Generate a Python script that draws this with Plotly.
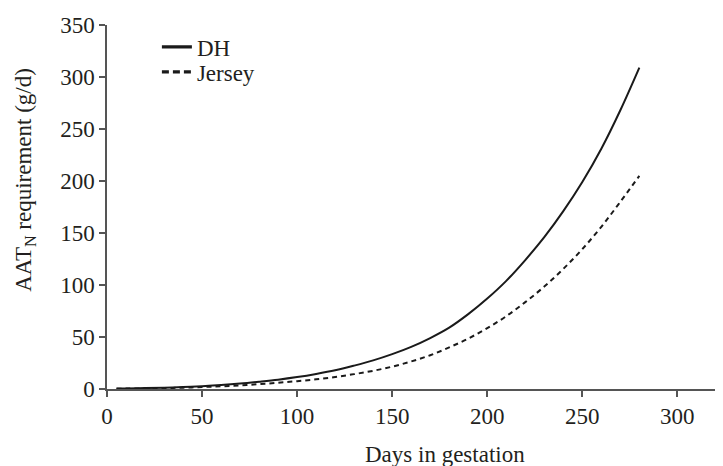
import plotly.graph_objects as go

days = [5, 10, 20, 30, 40, 50, 60, 70, 80, 90, 100, 110, 120, 130, 140, 150,
        160, 170, 180, 190, 200, 210, 220, 230, 240, 250, 260, 270, 280]
dh = [0.5, 0.6, 0.9, 1.3, 1.9, 2.7, 3.8, 5.2, 7.0, 9.0, 11.5, 14.5, 18.0, 22.5,
      27.5, 33.5, 40.5, 49.0, 59.0, 72.0, 87.0, 104.0, 124.0, 146.0, 171.0,
      199.0, 231.0, 268.0, 309.0]
jersey = [0.3, 0.4, 0.6, 0.9, 1.3, 1.9, 2.6, 3.5, 4.7, 6.0, 7.5, 9.3, 11.5, 14.3,
          17.5, 21.5, 26.5, 32.5, 40.0, 48.5, 58.5, 70.0, 83.5, 98.5, 115.5,
          134.5, 156.0, 180.0, 205.0]

x_ticks = [0, 50, 100, 150, 200, 250, 300]
y_ticks = [0, 50, 100, 150, 200, 250, 300, 350]

FONT = "Liberation Serif"
TXT = "#231f20"
AX = "#555555"
LINE = "#1a1a1a"

fig = go.Figure()
# data curves
fig.add_trace(go.Scatter(x=days, y=dh, mode="lines", name="DH", showlegend=False,
                         line=dict(color=LINE, width=2, shape="spline")))
fig.add_trace(go.Scatter(x=days, y=jersey, mode="lines", name="Jersey", showlegend=False,
                         line=dict(color=LINE, width=2, dash="5px,4px", shape="spline")))
# legend entries (thicker symbols, as in the reference)
fig.add_trace(go.Scatter(x=[None], y=[None], mode="lines", name="DH", legend="legend",
                         line=dict(color=LINE, width=3.2)))
fig.add_trace(go.Scatter(x=[None], y=[None], mode="lines", name="Jersey", legend="legend2",
                         line=dict(color=LINE, width=3.2, dash="7px,4px")))

leg_common = dict(xanchor="left", yanchor="middle", bgcolor="rgba(0,0,0,0)",
                  font=dict(size=23, family=FONT, color=TXT), borderwidth=0)

fig.update_layout(
    width=715, height=458, autosize=False,
    margin=dict(l=99, r=0, t=17, b=77),
    paper_bgcolor="white", plot_bgcolor="white",
    font=dict(family=FONT, size=23, color=TXT),
    showlegend=True,
    legend=dict(x=0.081, y=0.940, **leg_common),
    legend2=dict(x=0.081, y=0.871, **leg_common),
    xaxis=dict(range=[0, 324], tickvals=x_ticks, ticktext=[str(v) for v in x_ticks],
               showgrid=False, zeroline=False, showline=True, linecolor=AX, linewidth=1.5,
               ticks="outside", ticklen=6, tickwidth=1.5, tickcolor=AX,
               tickfont=dict(size=23, family=FONT, color=TXT)),
    yaxis=dict(range=[0, 350], tickvals=y_ticks, ticktext=[str(v) for v in y_ticks],
               showgrid=False, zeroline=False, showline=True, linecolor=AX, linewidth=1.5,
               ticks="outside", ticklen=6, tickwidth=1.5, tickcolor=AX,
               tickfont=dict(size=23, family=FONT, color=TXT)),
    annotations=[
        dict(text="Days in gestation", xref="paper", yref="paper", x=0.549, y=-0.18,
             xanchor="center", yanchor="middle", showarrow=False,
             font=dict(size=23, family=FONT, color=TXT)),
        dict(text="AAT<sub>N</sub> requirement (g/d)", xref="paper", yref="paper",
             x=-0.133, y=0.575, xanchor="center", yanchor="middle", textangle=-90,
             showarrow=False, font=dict(size=23, family=FONT, color=TXT)),
    ],
)

fig.write_html("out.html")
